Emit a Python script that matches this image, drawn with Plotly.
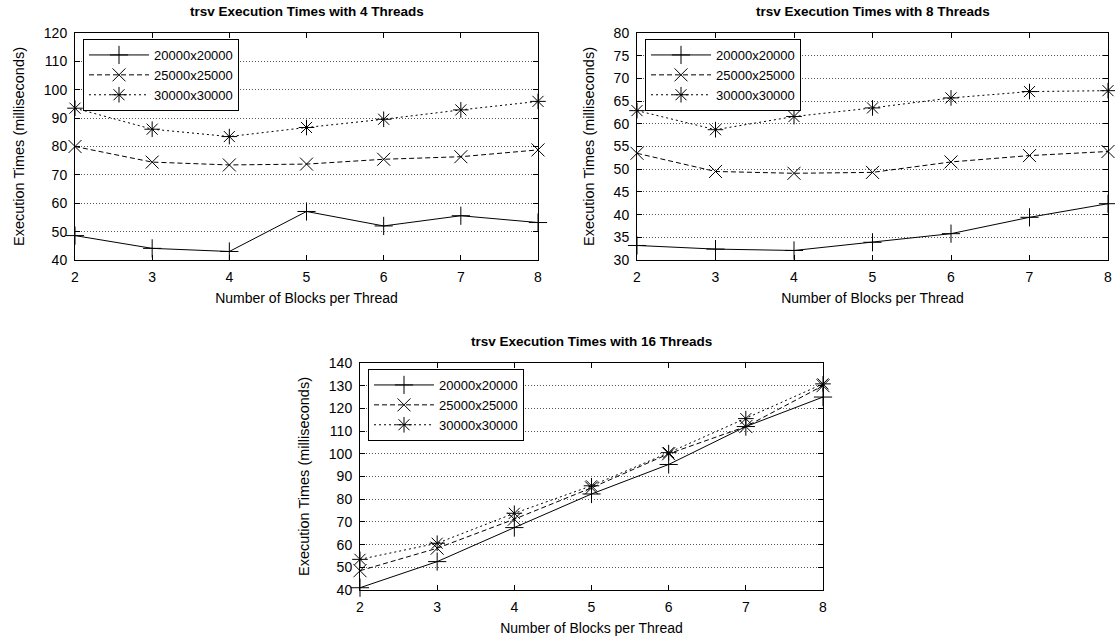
import plotly.graph_objects as go

blocks = [2, 3, 4, 5, 6, 7, 8]
series_names = ["20000x20000", "25000x25000", "30000x30000"]

t4_20000 = [48.6, 44.1, 43.0, 57.1, 52.0, 55.6, 53.2]
t4_25000 = [80.0, 74.5, 73.5, 73.8, 75.5, 76.4, 78.8]
t4_30000 = [93.5, 86.1, 83.5, 86.7, 89.6, 92.9, 95.9]

t8_20000 = [33.2, 32.4, 32.1, 33.9, 35.8, 39.4, 42.4]
t8_25000 = [53.5, 49.5, 49.1, 49.3, 51.6, 53.0, 53.9]
t8_30000 = [62.9, 58.7, 61.6, 63.5, 65.7, 67.1, 67.3]

t16_20000 = [41.0, 52.5, 67.5, 82.3, 95.3, 112.0, 125.0]
t16_25000 = [48.5, 58.4, 71.2, 85.0, 100.0, 112.0, 130.0]
t16_30000 = [53.5, 60.6, 73.8, 85.9, 100.5, 115.5, 130.8]

titles = ["trsv Execution Times with 4 Threads",
          "trsv Execution Times with 8 Threads",
          "trsv Execution Times with 16 Threads"]
x_title = "Number of Blocks per Thread"
y_title = "Execution Times (milliseconds)"
y_ranges = [[40, 120], [30, 80], [40, 140]]
y_dticks = [10, 5, 10]

W, H = 1115, 636
FONT = "Liberation Sans, Arial, sans-serif"

# plot boxes in window pixels (left, right, top, bottom)
boxes = [(75, 538, 33, 260), (637, 1108, 33, 260), (360, 823, 363, 590)]

data_sets = [
    [t4_20000, t4_25000, t4_30000],
    [t8_20000, t8_25000, t8_30000],
    [t16_20000, t16_25000, t16_30000],
]
dashes = ["solid", "5px,3px", "2px,3px"]
symbols = ["cross-thin-open", "x-thin-open", "asterisk-open"]

fig = go.Figure()
legend_names = ["legend", "legend2", "legend3"]
for p, sets in enumerate(data_sets):
    xa = "x" if p == 0 else f"x{p+1}"
    ya = "y" if p == 0 else f"y{p+1}"
    for s, vals in enumerate(sets):
        fig.add_trace(go.Scatter(
            x=blocks, y=vals, name=series_names[s], mode="lines+markers",
            xaxis=xa, yaxis=ya, legend=legend_names[p],
            line=dict(color="black", width=1, dash=dashes[s]),
            marker=dict(symbol=symbols[s], size=13, color="black",
                        line=dict(color="black", width=1)),
            cliponaxis=False,
        ))

layout = dict(
    width=W, height=H,
    margin=dict(l=0, r=0, t=0, b=0, autoexpand=False),
    paper_bgcolor="white", plot_bgcolor="white",
    font=dict(family=FONT, color="black", size=14),
    annotations=[],
)

for p, (l, r, t, b) in enumerate(boxes):
    sx = "" if p == 0 else str(p + 1)
    layout[f"xaxis{sx}"] = dict(
        domain=[l / W, r / W], anchor=f"y{sx}", range=[2, 8], dtick=1,
        showline=True, linecolor="black", linewidth=1, mirror="allticks",
        ticks="inside", ticklen=5, tickcolor="black", showgrid=False,
        zeroline=False, tickfont=dict(size=14), automargin=False,
        ticklabeloverflow="allow", ticklabelstandoff=4,
        title=dict(text=x_title, font=dict(size=14), standoff=9),
    )
    layout[f"yaxis{sx}"] = dict(
        domain=[1 - b / H, 1 - t / H], anchor=f"x{sx}", range=y_ranges[p],
        dtick=y_dticks[p], automargin=False, ticklabeloverflow="allow",
        ticklabelstandoff=4,
        showline=True, linecolor="black", linewidth=1, mirror="allticks",
        ticks="inside", ticklen=5, tickcolor="black",
        showgrid=True, gridcolor="#555", griddash="1px,2px", gridwidth=1,
        zeroline=False, tickfont=dict(size=14),
        title=dict(text=y_title, font=dict(size=14.5), standoff=15),
    )
    layout["annotations"].append(dict(
        text=f"<b>{titles[p]}</b>", x=(l + r) / 2 / W, y=1 - (t - 22) / H,
        xref="paper", yref="paper", xanchor="center", yanchor="middle",
        showarrow=False, font=dict(size=13.5, family=FONT),
    ))
    layout[legend_names[p]] = dict(
        x=(l + 8) / W, y=1 - (t + 6) / H, xanchor="left", yanchor="top",
        bgcolor="white", bordercolor="black", borderwidth=1,
        font=dict(size=13), itemwidth=60, tracegroupgap=0,
    )

fig.update_layout(**layout)
fig.write_html(
    "out.html",
    config={"displayModeBar": False},
    post_script="document.body.style.margin='0';document.body.style.overflow='hidden';",
)
